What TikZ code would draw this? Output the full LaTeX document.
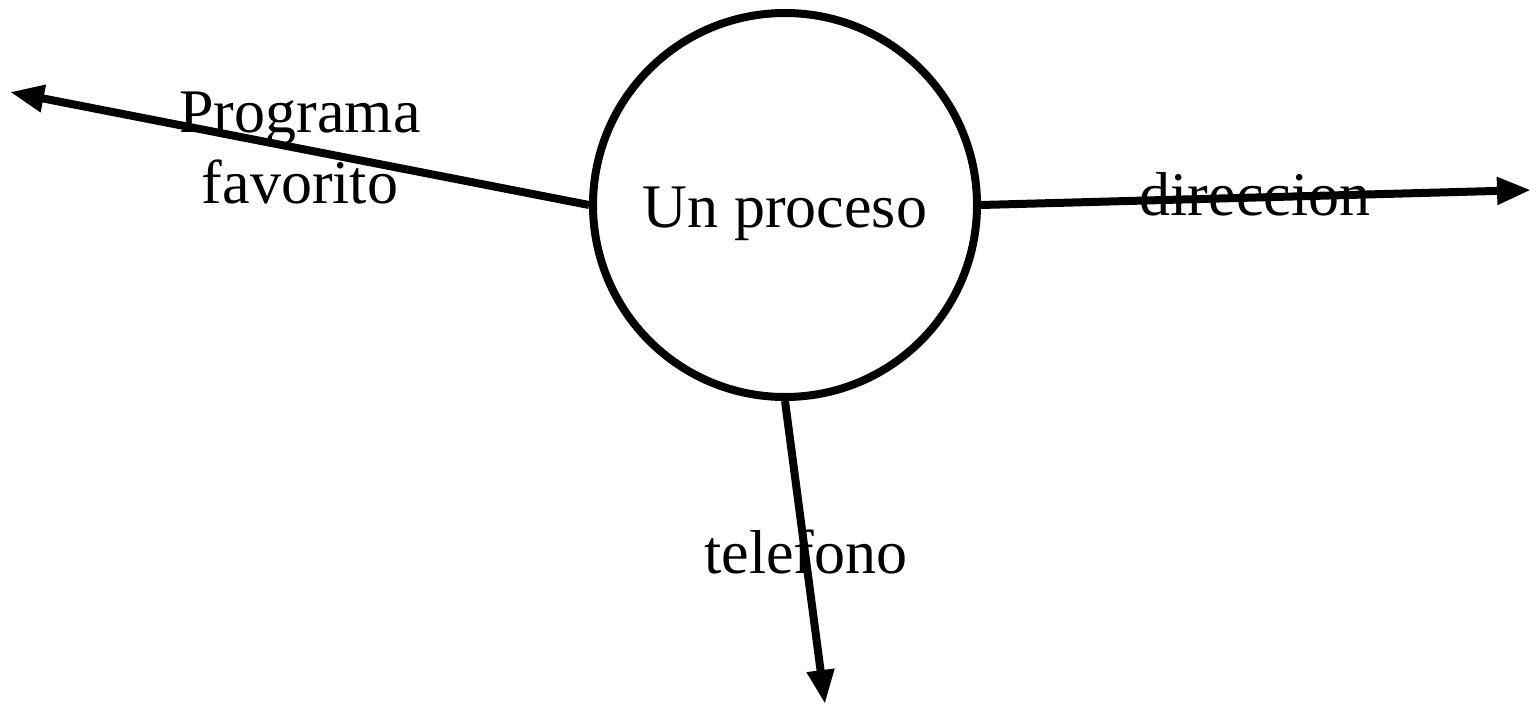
\documentclass[tikz,border=0pt]{standalone}
\usepackage{fontspec}
\setmainfont{Liberation Serif}
\usetikzlibrary{arrows.meta}
\begin{document}
\begin{tikzpicture}[x=1pt,y=-1pt,
  proc/.style={circle,draw,line width=8pt,minimum size=384pt,inner sep=0pt},
  lbl/.style={font=\fontsize{62}{71}\selectfont,inner sep=0pt,align=center,anchor=base},
  flow/.style={line width=8pt,-{Triangle[length=34pt,width=26pt]}}]
\useasboundingbox (0,0) rectangle (1537,704);
\node[proc] (P) at (785,205) {};
\node[lbl] (Pt) at (785,227) {Un proceso};
\coordinate (lt) at (10,92);
\coordinate (rt) at (1531,190);
\coordinate (bt) at (825,704);
\draw[flow] (P.west) -- (lt);
\draw[flow] (P.east) -- (rt);
\draw[flow] (P.south) -- (bt);
\node[lbl] (L1) at (300,203) {Programa\\favorito};
\node[lbl] (L2) at (1255,215) {direccion};
\node[lbl] (L3) at (806,573) {telefono};
\end{tikzpicture}
\end{document}
